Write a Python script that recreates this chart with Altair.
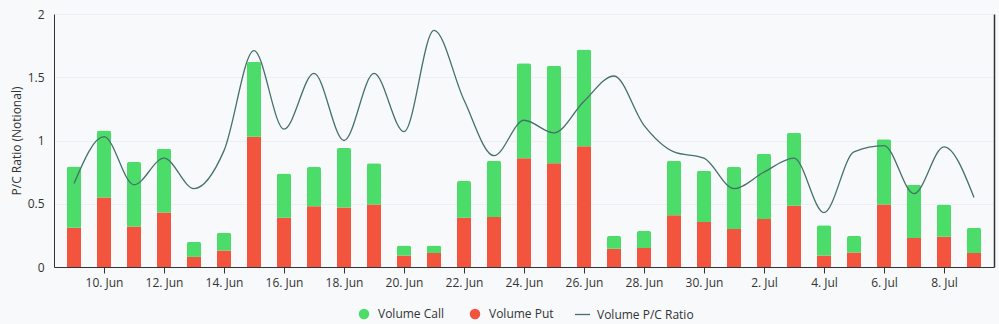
import altair as alt
import pandas as pd

dates = pd.date_range("2023-06-09", "2023-07-09", freq="D").strftime("%Y-%m-%d").tolist()
put_vals = [0.31, 0.55, 0.32, 0.43, 0.08, 0.13, 1.03, 0.39, 0.48, 0.47, 0.495, 0.09, 0.11, 0.39,
            0.395, 0.86, 0.82, 0.955, 0.145, 0.15, 0.41, 0.355, 0.30, 0.38, 0.485, 0.09, 0.115,
            0.495, 0.23, 0.24, 0.11]
call_vals = [0.485, 0.53, 0.51, 0.505, 0.12, 0.14, 0.59, 0.35, 0.31, 0.47, 0.325, 0.08, 0.06, 0.29,
             0.445, 0.75, 0.77, 0.765, 0.10, 0.135, 0.43, 0.405, 0.49, 0.515, 0.575, 0.24, 0.13,
             0.515, 0.42, 0.255, 0.20]
ratio_vals = [0.66, 1.03, 0.65, 0.86, 0.62, 0.92, 1.71, 1.09, 1.53, 1.0, 1.53, 1.07, 1.87, 1.32,
              0.88, 1.16, 1.06, 1.31, 1.51, 1.12, 0.91, 0.86, 0.62, 0.75, 0.86, 0.43, 0.91, 0.96,
              0.58, 0.95, 0.55]
tick_dates = ["2023-06-10", "2023-06-12", "2023-06-14", "2023-06-16", "2023-06-18", "2023-06-20",
              "2023-06-22", "2023-06-24", "2023-06-26", "2023-06-28", "2023-06-30", "2023-07-02",
              "2023-07-04", "2023-07-06", "2023-07-08"]

rows = []
for d, p, c in zip(dates, put_vals, call_vals):
    rows.append({"date": d, "series": "Volume Put", "value": p, "ord": 0})
    rows.append({"date": d, "series": "Volume Call", "value": c, "ord": 1})
bars_df = pd.DataFrame(rows)
line_df = pd.DataFrame({"date": dates, "ratio": ratio_vals, "series": "Volume P/C Ratio"})

FONT = "Open Sans"
TXT = "#333333"
xscale = alt.Scale(type="utc", domain=["2023-06-08T12:00:00", "2023-07-09T12:00:00"])
xaxis = alt.Axis(values=[pd.Timestamp(t).value // 10**6 for t in tick_dates], format="%-d. %b",
                 grid=False, domainColor=TXT, tickColor=TXT, tickSize=6,
                 labelFontSize=12, labelColor=TXT, labelPadding=4, title=None,
                 labelFont=FONT)

bars = alt.Chart(bars_df).mark_bar(size=14, cornerRadiusTopLeft=2, cornerRadiusTopRight=2).encode(
    x=alt.X("date:T", scale=xscale, axis=xaxis),
    y=alt.Y("value:Q", stack="zero", scale=alt.Scale(domain=[0, 2]),
            axis=alt.Axis(values=[0, 0.5, 1, 1.5, 2], format="~g", title="P/C Ratio (Notional)",
                          ticks=False, domainColor=TXT, gridColor="#eceff3", labelFontSize=12,
                          labelColor=TXT, titleFontSize=12, titleColor=TXT,
                          titleFontWeight="normal", labelPadding=10, titlePadding=4,
                          labelFont=FONT, titleFont=FONT)),
    color=alt.Color("series:N", scale=alt.Scale(domain=["Volume Call", "Volume Put"],
                                                 range=["#4cdc6a", "#f2543d"]),
                    legend=alt.Legend(orient="none", legendX=304, legendY=294, direction="horizontal",
                                      title=None, symbolType="circle",
                                      symbolSize=110, labelFontSize=12, labelColor=TXT,
                                      labelFont=FONT, columnPadding=24, labelOffset=8,
                                      symbolStrokeWidth=0)),
    order=alt.Order("ord:Q"),
)

line = alt.Chart(line_df).mark_line(interpolate="monotone", strokeWidth=1.3).encode(
    x=alt.X("date:T", scale=xscale),
    y=alt.Y("ratio:Q", scale=alt.Scale(domain=[0, 2]),
            axis=alt.Axis(orient="right", labels=False, ticks=False, grid=False, title=None,
                          domainColor=TXT, domainWidth=1.5)),
    stroke=alt.Stroke("series:N", scale=alt.Scale(domain=["Volume P/C Ratio"], range=["#46706c"]),
                      legend=alt.Legend(orient="none", legendX=520, legendY=292,
                                        direction="horizontal", title=None, symbolType="stroke",
                                        symbolSize=225, symbolStrokeWidth=1.3, labelFontSize=12,
                                        labelColor=TXT, labelFont=FONT, labelOffset=6)),
)

chart = alt.layer(bars, line).resolve_scale(y="independent").properties(
    width=940, height=253,
    autosize=alt.AutoSizeParams(type="none"),
    padding={"left": 54, "top": 14, "right": 5, "bottom": 57},
    background="#f7f9fb",
).configure_view(stroke=None)

chart.save("out.html", embed_options={"renderer": "svg", "actions": False})
